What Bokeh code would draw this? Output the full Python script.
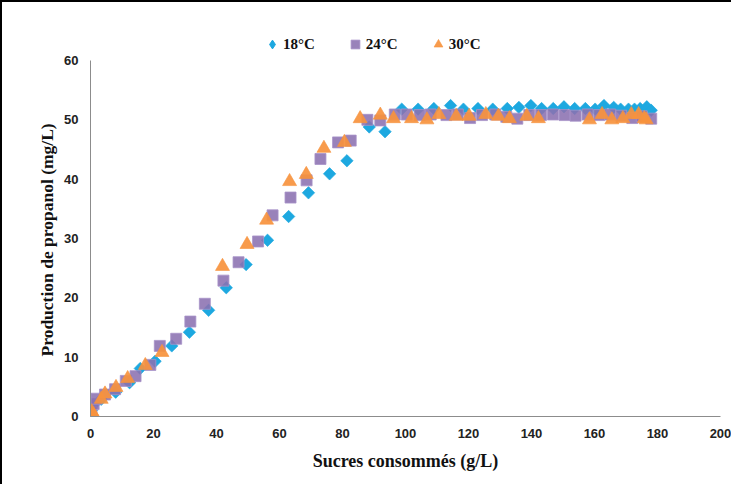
from bokeh.plotting import figure
from bokeh.models import Legend, LegendItem, FixedTicker, Range1d, Title
from bokeh.embed import file_html
from bokeh.resources import INLINE
import math

# ---- data ----
x18 = [0, 0.3, 1.0, 3.4, 8.0, 12.4, 15.8, 20.5, 25.8, 31.4, 37.5, 43.1, 49.4, 56.2, 62.9,
       69.2, 75.9, 81.4, 88.5, 93.5, 98.8, 104.0, 109.0, 114.3, 118.4, 123.0, 127.7, 132.3,
       136.0, 139.8, 143.2, 146.9, 150.3, 153.7, 157.1, 160.2, 163.0, 166.1, 168.3, 170.8,
       172.7, 174.5, 176.6, 178.0]
y18 = [0, 1.0, 2.0, 2.9, 4.1, 5.7, 8.1, 9.3, 11.9, 14.2, 17.9, 21.7, 25.6, 29.7, 33.7,
       37.7, 40.9, 43.1, 48.8, 48.0, 51.8, 51.8, 51.9, 52.4, 51.8, 51.9, 51.8, 51.9,
       52.1, 52.4, 51.9, 51.9, 52.2, 51.9, 51.9, 51.8, 52.4, 52.1, 51.8, 51.8,
       51.8, 51.9, 52.2, 51.6]

x24 = [0, 0.3, 1.0, 1.9, 4.6, 7.8, 11.2, 14.3, 19.0, 22.0, 27.2, 31.7, 36.3, 42.2, 47.0,
       53.2, 57.8, 63.5, 68.6, 73.0, 78.6, 82.6, 87.9, 92.0, 96.6, 100.4, 104.5, 108.0,
       113.0, 116.6, 120.5, 124.3, 128.5, 132.0, 135.5, 139.3, 143.0, 146.8, 150.5, 154.0,
       157.8, 161.5, 165.0, 168.5, 172.0, 175.0, 178.0]
y24 = [0, 0.8, 2.1, 3.0, 3.7, 4.6, 6.0, 6.8, 8.7, 11.9, 13.1, 16.0, 19.0, 22.9, 26.0,
       29.5, 33.9, 36.9, 39.8, 43.4, 46.2, 46.5, 50.0, 49.9, 50.9, 50.9, 50.8, 50.9,
       50.8, 50.9, 50.3, 50.8, 50.9, 50.5, 50.2, 50.8, 50.8, 50.9, 50.8, 50.7,
       50.9, 50.8, 50.9, 50.7, 50.3, 50.6, 50.2]

x30 = [0, 0.4, 1.0, 3.4, 4.6, 8.1, 11.8, 17.4, 22.7, 41.9, 49.7, 55.9, 63.2, 68.5, 74.1,
       80.6, 85.6, 92.0, 96.2, 101.9, 106.8, 110.6, 116.1, 120.2, 125.5, 129.5, 133.0,
       138.5, 142.2, 158.4, 162.4, 165.5, 169.0, 171.7, 174.0, 175.8, 176.4]
y30 = [0, 0.8, 0.3, 2.9, 3.8, 4.9, 6.4, 8.6, 10.8, 25.3, 29.0, 33.1, 39.6, 40.8, 45.2,
       46.2, 50.2, 50.8, 50.2, 50.2, 50.0, 50.9, 50.6, 50.6, 50.9, 50.6, 50.2,
       50.6, 50.2, 50.0, 50.9, 50.0, 50.2, 50.9, 50.9, 50.2, 50.0]

series_labels = ["18°C", "24°C", "30°C"]
x_ticks = [0, 20, 40, 60, 80, 100, 120, 140, 160, 180, 200]
y_ticks = [0, 10, 20, 30, 40, 50, 60]
x_title = "Sucres consommés (g/L)"
y_title = "Production de propanol (mg/L)"

BLUE = "#1DA8E0"
PURPLE = "#8B71B0"
ORANGE = "#F7923D"

# frame extends above y=60 to host the legend; the y axis itself stops at 60
p = figure(width=731, height=484,
           x_range=Range1d(0, 200), y_range=Range1d(0, 65.73),
           output_backend="svg", toolbar_location=None,
           min_border_left=88, min_border_right=13, min_border_top=24, min_border_bottom=70)
p.styles = {"border-left": "2px solid black", "border-top": "2px solid black"}

p.xgrid.visible = False
p.ygrid.visible = False
p.outline_line_color = None
p.background_fill_color = "white"
p.border_fill_color = "white"

for ax in (p.xaxis[0], p.yaxis[0]):
    ax.axis_line_color = "#8C8C8C"
    ax.axis_line_width = 1
    ax.major_tick_line_color = None
    ax.minor_tick_line_color = None
    ax.major_tick_out = 0
    ax.major_tick_in = 0
    ax.minor_tick_out = 0
    ax.major_label_text_font = "Liberation Sans"
    ax.major_label_text_font_style = "bold"
    ax.major_label_text_font_size = "13px"
    ax.major_label_text_color = "#222222"
    ax.axis_label_text_font = "Liberation Serif"
    ax.axis_label_text_font_style = "bold"
    ax.axis_label_text_font_size = "18px"
    ax.axis_label_text_color = "#111111"

p.xaxis[0].ticker = FixedTicker(ticks=x_ticks)
p.yaxis[0].ticker = FixedTicker(ticks=y_ticks)
p.yaxis[0].bounds = (y_ticks[0], y_ticks[-1])
p.xaxis[0].major_label_standoff = 12
p.yaxis[0].major_label_standoff = 12
p.xaxis[0].axis_label = x_title
p.xaxis[0].axis_label_standoff = 10

# y title as a side title, anchored from the bottom so it sits centred on the 0-60 axis
ytitle = Title(text=y_title, align="left", offset=60, standoff=9,
               text_font="Liberation Serif", text_font_style="bold",
               text_font_size="17.5px", text_color="#111111")
p.add_layout(ytitle, "left")

# diamond key renderer (hidden under the rotated squares); supplies the legend glyph
r18_key = p.scatter(x18, y18, marker="diamond", size=10, fill_color=BLUE, line_color=BLUE)
r18 = p.scatter(x18, y18, marker="square", angle=math.pi / 4, size=8.8,
                fill_color=BLUE, line_color=BLUE, fill_alpha=1.0, line_alpha=0.6)
r24 = p.scatter(x24, y24, marker="square", size=11,
                fill_color=PURPLE, line_color="#A892C8", fill_alpha=0.88, line_alpha=0.8)
r30 = p.scatter(x30, y30, marker="triangle", size=14,
                fill_color=ORANGE, line_color=ORANGE, fill_alpha=0.92, line_alpha=0.6)

legend = Legend(items=[LegendItem(label=series_labels[0], renderers=[r18_key]),
                       LegendItem(label=series_labels[1], renderers=[r24]),
                       LegendItem(label=series_labels[2], renderers=[r30])],
                orientation="horizontal", location=(171, 361),
                glyph_width=22, glyph_height=22, label_standoff=0, spacing=29,
                padding=0, margin=0, border_line_color=None, background_fill_alpha=0,
                label_text_font="Liberation Serif", label_text_font_style="bold",
                label_text_font_size="15px", label_text_color="#111111")
p.add_layout(legend, "center")

open("out.html", "w").write(file_html(p, INLINE))
